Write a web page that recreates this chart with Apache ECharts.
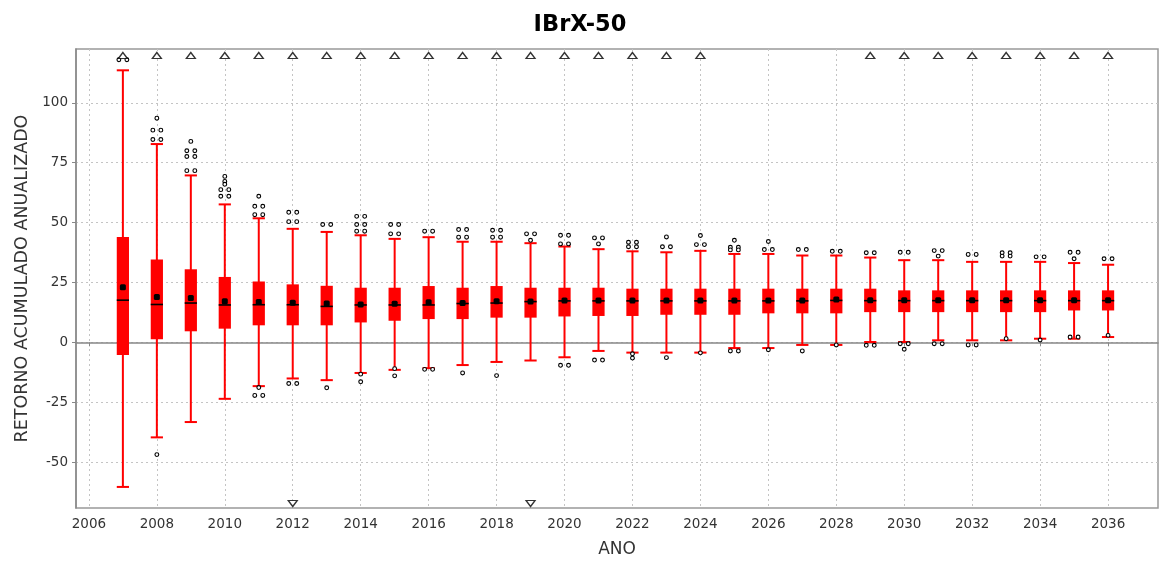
<!DOCTYPE html>
<html>
<head>
<meta charset="utf-8">
<script src="https://cdn.jsdelivr.net/npm/echarts@6/dist/echarts.min.js"></script>
<style>html,body{margin:0;padding:0;background:#fff}#c{width:1160px;height:563px}</style>
</head>
<body>
<div id="c"></div>
<script>
const years = [2007,2008,2009,2010,2011,2012,2013,2014,2015,2016,2017,2018,2019,2020,2021,2022,2023,2024,2025,2026,2027,2028,2029,2030,2031,2032,2033,2034,2035,2036];
const whiskerHigh = [113.6,82.8,69.7,57.6,51.8,47.4,46.1,44.7,43.2,43.9,42.0,42.0,41.4,40.0,38.9,38.0,37.6,38.2,36.9,36.9,36.25,36.25,35.4,34.3,34.3,33.6,33.6,33.6,33.1,32.4];
const q3 = [44.0,34.6,30.5,27.3,25.4,24.2,23.6,22.8,22.8,23.5,22.8,23.5,22.8,22.8,22.8,22.4,22.4,22.4,22.4,22.4,22.4,22.4,22.4,21.7,21.7,21.7,21.7,21.7,21.7,21.7];
const median = [17.6,15.8,16.4,15.6,15.7,15.7,15.0,15.6,15.6,15.6,16.2,16.4,17.0,17.3,17.3,17.3,17.3,17.3,17.3,17.3,17.3,17.5,17.4,17.4,17.4,17.4,17.4,17.4,17.4,17.4];
const mean = [23.0,18.9,18.5,17.1,16.8,16.5,16.25,15.8,16.1,16.7,16.4,17.2,17.0,17.5,17.5,17.5,17.5,17.5,17.5,17.5,17.5,17.9,17.6,17.6,17.6,17.6,17.6,17.6,17.6,17.6];
const q1 = [-5.3,1.25,4.6,5.7,7.1,7.1,7.1,8.3,9.0,9.7,9.7,10.3,10.3,10.8,11.0,11.0,11.5,11.5,11.5,12.1,12.1,12.1,12.6,12.6,12.6,12.6,12.6,12.6,13.3,13.3];
const whiskerLow = [-60.4,-39.7,-33.3,-23.6,-18.3,-15.1,-15.8,-12.8,-11.5,-10.8,-9.5,-8.2,-7.6,-6.25,-3.6,-4.3,-4.3,-4.3,-2.4,-2.4,-1.1,-1.1,0.14,0.14,0.83,0.83,0.83,1.5,1.5,2.2];

// outliers: year, value, number of markers side by side
const outlierYears  = [2007,2008,2008,2008,2008,2009,2009,2009,2009,2010,2010,2010,2010,2010,2011,2011,2011,2011,2011,2012,2012,2012,2013,2013,2014,2014,2014,2014,2014,2015,2015,2015,2015,2016,2016,2017,2017,2017,2018,2018,2018,2019,2019,2020,2020,2020,2021,2021,2021,2022,2022,2022,2022,2023,2023,2023,2024,2024,2024,2025,2025,2025,2025,2026,2026,2026,2027,2027,2028,2028,2029,2029,2030,2030,2030,2031,2031,2031,2032,2032,2033,2033,2033,2034,2034,2035,2035,2035,2036,2036];
const outlierValues = [118.0,93.6,88.6,84.7,-46.9,83.9,80.0,77.6,71.7,69.3,67.2,66.0,63.75,61.0,61.0,56.8,53.3,-18.9,-22.2,54.3,50.4,-17.2,49.2,-19.0,52.6,49.2,46.4,-13.3,-16.5,49.2,45.3,-11.0,-14.0,46.4,-11.3,47.1,43.9,-12.8,46.8,43.9,-13.9,45.3,42.6,44.7,41.1,-9.6,43.6,41.1,-7.4,41.8,39.9,-4.8,-6.6,44.0,39.9,-6.4,44.6,40.8,-4.4,42.6,39.7,38.6,-3.6,42.1,38.75,-3.1,38.75,-3.6,38.0,-1.1,37.4,-1.25,37.6,-0.6,-2.9,38.3,36.0,-0.6,36.7,-1.1,37.4,36.0,1.5,35.7,0.97,37.6,34.9,2.2,34.9,2.9];
const outlierCounts = [2,1,2,2,1,1,2,2,2,1,1,1,2,2,1,2,2,1,2,2,2,2,2,1,2,2,2,1,1,2,2,1,1,2,2,2,2,1,2,2,1,2,1,2,2,2,2,1,2,2,2,1,1,1,2,1,1,2,1,1,2,2,2,1,2,1,2,1,2,1,2,2,2,2,1,2,1,2,2,2,2,2,1,2,1,2,1,2,2,1];

// far-out indicators
const farHighYears = [2007,2008,2009,2010,2011,2012,2013,2014,2015,2016,2017,2018,2019,2020,2021,2022,2023,2024,2029,2030,2031,2032,2033,2034,2035,2036];
const farHighLevel = 119.8;
const farLowYears = [2012,2019];
const farLowLevel = -67.3;

const yTicks = [-50,-25,0,25,50,75,100];
const xTicks = [2006,2008,2010,2012,2014,2016,2018,2020,2022,2024,2026,2028,2030,2032,2034,2036];

const boxData = years.map((y,i)=>[y, whiskerLow[i], q1[i], median[i], q3[i], whiskerHigh[i], mean[i]]);
const outData = outlierYears.map((y,i)=>[y, outlierValues[i], outlierCounts[i]]);

function renderBox(params, api) {
  const x = api.value(0);
  const lo = api.coord([x, api.value(1)]);
  const b1 = api.coord([x, api.value(2)]);
  const md = api.coord([x, api.value(3)]);
  const b3 = api.coord([x, api.value(4)]);
  const hi = api.coord([x, api.value(5)]);
  const mn = api.coord([x, api.value(6)]);
  const w = api.size([0.36, 0])[0];
  const cx = lo[0];
  const red = '#ff0000';
  return {type:'group', children:[
    {type:'line', shape:{x1:cx,y1:hi[1],x2:cx,y2:lo[1]}, style:{stroke:red,lineWidth:2}},
    {type:'line', shape:{x1:cx-w/2,y1:hi[1],x2:cx+w/2,y2:hi[1]}, style:{stroke:red,lineWidth:2}},
    {type:'line', shape:{x1:cx-w/2,y1:lo[1],x2:cx+w/2,y2:lo[1]}, style:{stroke:red,lineWidth:2}},
    {type:'rect', shape:{x:cx-w/2,y:b3[1],width:w,height:b1[1]-b3[1]}, style:{fill:red}},
    {type:'line', shape:{x1:cx-w/2,y1:md[1],x2:cx+w/2,y2:md[1]}, style:{stroke:'#000',lineWidth:1.6}},
    {type:'rect', shape:{x:mn[0]-3,y:mn[1]-3,width:6,height:6,r:1.5}, style:{fill:'#000'}}
  ]};
}
function renderOut(params, api) {
  const p = api.coord([api.value(0), api.value(1)]);
  const n = api.value(2);
  const offs = n === 2 ? [-4, 4] : [0];
  return {type:'group', children: offs.map(o=>({
    type:'circle', shape:{cx:p[0]+o, cy:p[1], r:1.9},
    style:{fill:'#fff', stroke:'#000', lineWidth:1.1}
  }))};
}

const chart = echarts.init(document.getElementById('c'), null, {renderer:'canvas'});
const axisTextColor = '#333';
const font = 'DejaVu Sans';
chart.setOption({
  animation:false,
  backgroundColor:'#fff',
  title:{text:'IBrX-50', left:'center', top:9, textStyle:{fontFamily:font, fontWeight:'bold', fontSize:22.5, color:'#000'}},
  grid:{left:76, right:2, top:49, bottom:54, show:true, borderColor:'#999', borderWidth:1.5, containLabel:false},
  xAxis:{
    type:'value', min:2005.62, max:2037.47,
    name:'ANO', nameLocation:'middle', nameGap:33,
    nameTextStyle:{fontFamily:font, fontSize:17, color:axisTextColor},
    axisLine:{show:true, lineStyle:{color:'#888', width:1.5}},
    axisTick:{show:true, length:4, inside:false, lineStyle:{color:'#888'}, customValues:xTicks},
    axisLabel:{customValues:xTicks, formatter:v=>String(v), fontFamily:font, fontSize:13.5, color:axisTextColor, margin:9},
    splitLine:{show:true, lineStyle:{color:'#c4c4c4', type:[2,3], width:1}}
  },
  yAxis:{
    type:'value', min:-69.2, max:122.5,
    name:'RETORNO ACUMULADO ANUALIZADO', nameLocation:'middle', nameGap:44, nameRotate:90,
    nameTextStyle:{fontFamily:font, fontSize:17.5, color:axisTextColor},
    axisLine:{show:true, lineStyle:{color:'#888', width:1.5}},
    axisTick:{show:true, length:4, lineStyle:{color:'#888'}, customValues:yTicks},
    axisLabel:{customValues:yTicks, formatter:v=>String(v), fontFamily:font, fontSize:13.5, color:axisTextColor, margin:8},
    splitLine:{show:true, lineStyle:{color:'#c4c4c4', type:[2,3], width:1}}
  },
  series:[
    {type:'custom', renderItem:renderBox, data:boxData, encode:{x:0,y:[1,2,3,4,5,6]}, z:3, clip:true},
    {type:'custom', renderItem:renderOut, data:outData, encode:{x:0,y:1}, z:4, clip:true},
    {type:'scatter', data:farHighYears.map(y=>[y, farHighLevel]), symbol:'triangle', symbolSize:[9,6],
     itemStyle:{color:'#fff', borderColor:'#000', borderWidth:1.3}, z:5},
    {type:'scatter', data:farLowYears.map(y=>[y, farLowLevel]), symbol:'triangle', symbolRotate:180, symbolSize:[9,6],
     itemStyle:{color:'#fff', borderColor:'#000', borderWidth:1.3}, z:5}
  ]
});
</script>
</body>
</html>
